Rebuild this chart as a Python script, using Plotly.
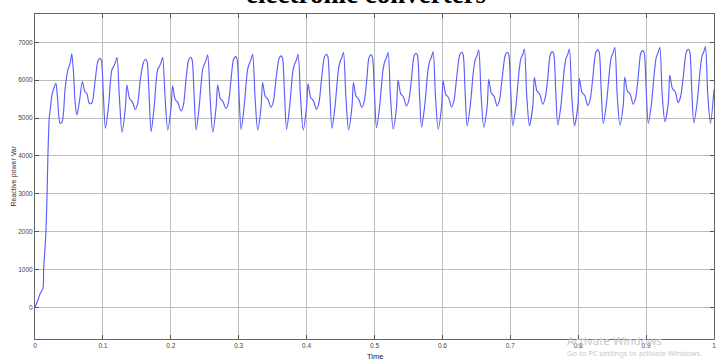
import plotly.graph_objects as go

# ---- data (time in s, reactive power in Var) ----
time_s = [
    # start-up transient
    0.0, 0.004, 0.008, 0.0117, 0.0127, 0.0145, 0.0161, 0.0178, 0.019, 0.021,
    0.0224, 0.025, 0.0273, 0.0308, 0.033, 0.037, 0.040, 0.0444, 0.0484, 0.0518,
    0.0542, 0.0566, 0.059, 0.0616, 0.0654, 0.0698, 0.0738, 0.0762, 0.080, 0.0836,
    0.0884,
    # cycle 1
    0.0922, 0.0942, 0.0957, 0.0977, 0.1005, 0.1037, 0.1082, 0.1132, 0.1157, 0.1182,
    0.1207, 0.1242, 0.1282, 0.1332, 0.1354, 0.1392, 0.1417, 0.1437, 0.1477, 0.1512, 0.1550,
    # cycle 2
    0.1595, 0.1615, 0.1630, 0.1650, 0.1678, 0.1710, 0.1755, 0.1805, 0.1830, 0.1855,
    0.1880, 0.1915, 0.1955, 0.2005, 0.2027, 0.2065, 0.2090, 0.2110, 0.2150, 0.2185, 0.2223,
    # cycle 3
    0.2258, 0.2278, 0.2293, 0.2313, 0.2341, 0.2373, 0.2418, 0.2468, 0.2493, 0.2518,
    0.2543, 0.2578, 0.2618, 0.2668, 0.2690, 0.2728, 0.2753, 0.2773, 0.2813, 0.2848, 0.2886,
    # cycle 4
    0.2920, 0.2940, 0.2955, 0.2975, 0.3003, 0.3035, 0.3080, 0.3130, 0.3155, 0.3180,
    0.3205, 0.3240, 0.3280, 0.3330, 0.3352, 0.3390, 0.3415, 0.3435, 0.3475, 0.3510, 0.3548,
    # cycle 5
    0.3590, 0.3610, 0.3625, 0.3645, 0.3673, 0.3705, 0.3750, 0.3800, 0.3825, 0.3850,
    0.3875, 0.3910, 0.3950, 0.4000, 0.4022, 0.4060, 0.4085, 0.4105, 0.4145, 0.4180, 0.4218,
    # cycle 6
    0.4258, 0.4278, 0.4293, 0.4313, 0.4341, 0.4373, 0.4418, 0.4468, 0.4493, 0.4518,
    0.4543, 0.4578, 0.4618, 0.4668, 0.4690, 0.4728, 0.4753, 0.4773, 0.4813, 0.4848, 0.4886,
    # cycle 7
    0.4915, 0.4935, 0.4950, 0.4970, 0.4998, 0.5030, 0.5075, 0.5125, 0.5150, 0.5175,
    0.5200, 0.5235, 0.5275, 0.5325, 0.5347, 0.5385, 0.5410, 0.5430, 0.5470, 0.5505, 0.5543,
    # cycle 8
    0.5578, 0.5598, 0.5613, 0.5633, 0.5661, 0.5693, 0.5738, 0.5788, 0.5813, 0.5838,
    0.5863, 0.5898, 0.5938, 0.5988, 0.6010, 0.6048, 0.6073, 0.6093, 0.6133, 0.6168, 0.6206,
    # cycle 9
    0.6250, 0.6270, 0.6285, 0.6305, 0.6333, 0.6365, 0.6410, 0.6460, 0.6485, 0.6510,
    0.6535, 0.6570, 0.6610, 0.6660, 0.6682, 0.6720, 0.6745, 0.6765, 0.6805, 0.6840, 0.6878,
    # cycle 10
    0.6922, 0.6942, 0.6957, 0.6977, 0.7005, 0.7037, 0.7082, 0.7132, 0.7157, 0.7182,
    0.7207, 0.7242, 0.7282, 0.7332, 0.7354, 0.7392, 0.7417, 0.7437, 0.7477, 0.7512, 0.7550,
    # cycle 11
    0.7585, 0.7605, 0.7620, 0.7640, 0.7668, 0.7700, 0.7745, 0.7795, 0.7820, 0.7845,
    0.7870, 0.7905, 0.7945, 0.7995, 0.8017, 0.8055, 0.8080, 0.8100, 0.8140, 0.8175, 0.8213,
    # cycle 12
    0.8254, 0.8274, 0.8289, 0.8309, 0.8337, 0.8369, 0.8414, 0.8464, 0.8489, 0.8514,
    0.8539, 0.8574, 0.8614, 0.8664, 0.8686, 0.8724, 0.8749, 0.8769, 0.8809, 0.8844, 0.8882,
    # cycle 13
    0.8917, 0.8937, 0.8952, 0.8972, 0.9000, 0.9032, 0.9077, 0.9127, 0.9152, 0.9177,
    0.9202, 0.9237, 0.9277, 0.9327, 0.9349, 0.9387, 0.9412, 0.9432, 0.9472, 0.9507, 0.9545,
    # cycle 14 (partial)
    0.9588, 0.9608, 0.9623, 0.9643, 0.9671, 0.9703, 0.9748, 0.9798, 0.9823, 0.9848,
    0.9873, 0.9908, 0.9948, 1.0,
]

reactive_var = [
    0, 180, 380, 500, 1000, 1500, 2000, 3000, 4000, 5000,
    5210, 5610, 5760, 5918, 5565, 4860, 4905, 5786, 6270, 6446,
    6692, 6225, 5432, 5080, 5432, 5960, 5680, 5654, 5390, 5390,
    5960,
    6478, 6558, 6578, 6518, 5700, 4729, 5300, 6270, 6355, 6455,
    6605, 5570, 4622, 5300, 5873, 5513, 5463, 5413, 5230, 5380, 6000,
    6452, 6532, 6552, 6492, 5700, 4640, 5300, 6270, 6355, 6455,
    6605, 5570, 4684, 5300, 5847, 5487, 5437, 5387, 5185, 5335, 6000,
    6505, 6585, 6605, 6545, 5700, 4684, 5300, 6270, 6416, 6516,
    6666, 5570, 4622, 5300, 5873, 5513, 5463, 5413, 5250, 5400, 6000,
    6522, 6602, 6622, 6562, 5700, 4700, 5300, 6270, 6434, 6534,
    6684, 5570, 4684, 5300, 5934, 5574, 5524, 5474, 5284, 5434, 6000,
    6540, 6620, 6640, 6580, 5700, 4700, 5300, 6270, 6434, 6534,
    6684, 5570, 4684, 5300, 5900, 5540, 5490, 5440, 5230, 5380, 6000,
    6584, 6664, 6684, 6624, 5700, 4729, 5300, 6270, 6487, 6587,
    6737, 5570, 4684, 5300, 5935, 5575, 5525, 5475, 5280, 5430, 6000,
    6566, 6646, 6666, 6606, 5700, 4745, 5300, 6270, 6487, 6587,
    6737, 5570, 4710, 5300, 6004, 5644, 5594, 5544, 5318, 5468, 6000,
    6610, 6690, 6710, 6650, 5700, 4760, 5300, 6270, 6503, 6603,
    6753, 5570, 4710, 5300, 5990, 5630, 5580, 5530, 5290, 5440, 6000,
    6637, 6717, 6737, 6677, 5750, 4790, 5320, 6290, 6548, 6648,
    6798, 5600, 4760, 5320, 6023, 5663, 5613, 5563, 5318, 5468, 6020,
    6637, 6717, 6737, 6677, 5750, 4800, 5320, 6290, 6574, 6674,
    6824, 5600, 4800, 5320, 6076, 5716, 5666, 5616, 5363, 5513, 6020,
    6653, 6733, 6753, 6693, 5750, 4816, 5320, 6290, 6574, 6674,
    6824, 5600, 4800, 5320, 6040, 5680, 5630, 5580, 5330, 5480, 6020,
    6698, 6778, 6798, 6738, 5800, 4860, 5350, 6300, 6619, 6719,
    6869, 5620, 4816, 5350, 6076, 5716, 5666, 5616, 5363, 5513, 6050,
    6680, 6760, 6780, 6720, 5800, 4860, 5350, 6300, 6619, 6719,
    6869, 5620, 4904, 5400, 6137, 5777, 5727, 5677, 5405, 5555, 6050,
    6715, 6795, 6815, 6755, 5800, 4870, 5350, 6300, 6635, 6735,
    6885, 5620, 4860, 5750,
]

x_tick_vals = [0, 0.1, 0.2, 0.3, 0.4, 0.5, 0.6, 0.7, 0.8, 0.9, 1.0]
x_tick_text = ["0", "0.1", "0.2", "0.3", "0.4", "0.5", "0.6", "0.7", "0.8", "0.9", "1"]
y_tick_vals = [0, 1000, 2000, 3000, 4000, 5000, 6000, 7000]
y_tick_text = ["0", "1000", "2000", "3000", "4000", "5000", "6000", "7000"]

title_text = "electronic converters"
x_title = "Time"
y_title = "Reactive power Var"

fig = go.Figure()
fig.add_trace(go.Scatter(
    x=time_s, y=reactive_var, mode="lines",
    line=dict(color="#5c5cff", width=1.15, shape="spline", smoothing=0.8),
    hoverinfo="skip", showlegend=False,
))

axis_common = dict(
    showgrid=True, gridcolor="#bdbdbd", gridwidth=1,
    showline=True, linecolor="#666666", linewidth=1, mirror="ticks",
    ticks="inside", ticklen=4, tickcolor="#555555",
    zeroline=False,
    tickfont=dict(family="Liberation Sans, Arial, sans-serif", size=6.5, color="#444444"),
)

fig.update_xaxes(range=[0, 1], tickvals=x_tick_vals, ticktext=x_tick_text,
                 ticklabeloverflow="allow", **axis_common)
fig.update_yaxes(range=[-837, 7747], tickvals=y_tick_vals, ticktext=y_tick_text, **axis_common)

fig.update_layout(
    width=718, height=361,
    margin=dict(l=35, r=2, t=14, b=22),
    paper_bgcolor="white", plot_bgcolor="white",
    annotations=[
        dict(text=f"<b>{title_text}</b>", xref="paper", yref="paper", x=0.4875, y=1.0,
             xanchor="center", yanchor="bottom", yshift=3, showarrow=False,
             font=dict(family="Liberation Serif, Times New Roman, serif", size=27, color="black"),
             ),
        dict(text=x_title, xref="paper", yref="paper", x=0.5, y=0,
             xanchor="center", yanchor="top", yshift=-11, showarrow=False,
             font=dict(family="Liberation Sans, Arial, sans-serif", size=7.5, color="#222222")),
        dict(text=y_title, xref="paper", yref="paper", x=0, y=0.5, textangle=-90,
             xanchor="right", yanchor="middle", xshift=-16, showarrow=False,
             font=dict(family="Liberation Sans, Arial, sans-serif", size=7, color="#333333")),
        dict(text="Activate Windows", xref="paper", yref="paper", x=0.78, y=0,
             xanchor="left", yanchor="middle", yshift=-1, showarrow=False,
             font=dict(family="Noto Sans, sans-serif", size=11.5, color="#c8c8c8")),
        dict(text="Go to PC settings to activate Windows.", xref="paper", yref="paper", x=0.78, y=0,
             xanchor="left", yanchor="middle", yshift=-14, showarrow=False,
             font=dict(family="Noto Sans, sans-serif", size=7.5, color="#c8c8c8")),
    ],
)

fig.write_html("out.html")
